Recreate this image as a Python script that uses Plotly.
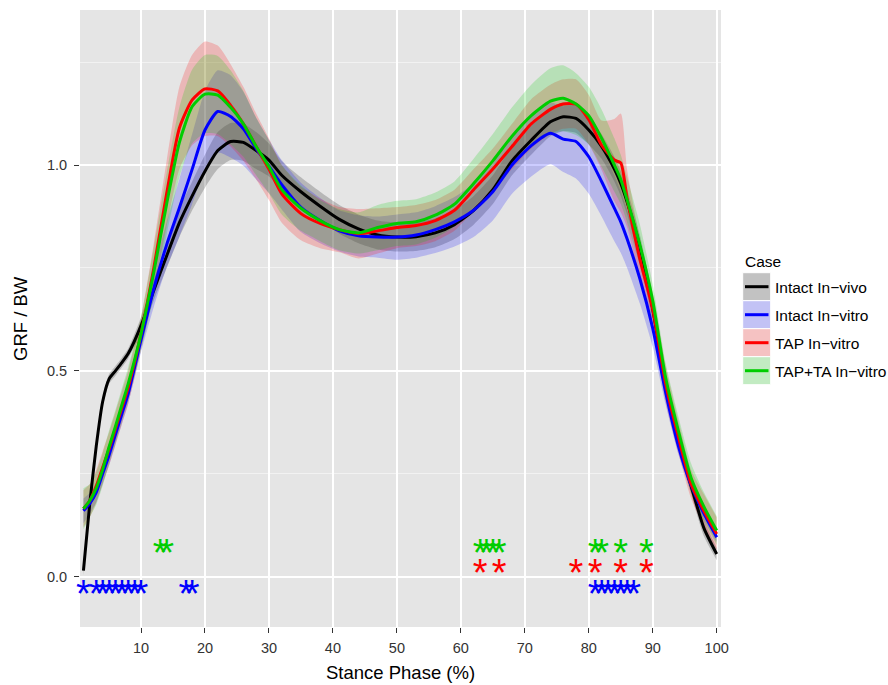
import plotly.graph_objects as go

# ---------------- data ----------------
stance = [1, 2, 3, 4, 5, 6, 7, 8, 10, 12, 14, 16, 18, 20, 22, 24, 26, 28, 30, 32,
          35, 38, 41, 44, 47, 50, 53, 56, 59, 62, 65, 68, 71, 74,
          76, 78, 80, 82, 84, 85, 86, 88, 90, 92, 94, 96, 98, 100]

invivo_mean = [0.015, 0.18, 0.317, 0.425, 0.48, 0.50, 0.52, 0.542,
               0.61, 0.696, 0.779, 0.86, 0.925, 0.985, 1.035, 1.057, 1.055, 1.035, 1.012, 0.975,
               0.935, 0.90, 0.868, 0.845, 0.83, 0.825, 0.826, 0.835, 0.855, 0.89, 0.94, 1.01, 1.06, 1.105,
               1.117, 1.113, 1.085, 1.045, 0.99, 0.955, 0.91, 0.80, 0.65, 0.47, 0.33, 0.22, 0.118, 0.055]
invivo_sd = [0.012, 0.012, 0.012, 0.012, 0.012, 0.012, 0.012, 0.012,
             0.02, 0.025, 0.03, 0.035, 0.035, 0.04, 0.045, 0.045, 0.045, 0.045, 0.04, 0.035,
             0.035, 0.035, 0.035, 0.035, 0.035, 0.035, 0.035, 0.035, 0.035, 0.035, 0.035, 0.035, 0.035, 0.035,
             0.035, 0.035, 0.035, 0.03, 0.03, 0.03, 0.03, 0.03, 0.03, 0.025, 0.02, 0.02, 0.02, 0.015]

invitro_mean = [0.16, 0.178, 0.205, 0.25, 0.295, 0.345, 0.395, 0.445,
                0.575, 0.70, 0.806, 0.896, 0.99, 1.085, 1.13, 1.118, 1.088, 1.04, 0.997, 0.952,
                0.897, 0.865, 0.84, 0.828, 0.825, 0.825, 0.83, 0.843, 0.862, 0.89, 0.935, 1.0, 1.047, 1.077,
                1.063, 1.057, 1.02, 0.96, 0.895, 0.862, 0.82, 0.723, 0.603, 0.449, 0.318, 0.222, 0.153, 0.096]
invitro_sd = [0.03, 0.025, 0.025, 0.025, 0.025, 0.025, 0.025, 0.025,
              0.03, 0.045, 0.055, 0.07, 0.085, 0.095, 0.1, 0.1, 0.09, 0.075, 0.065, 0.06,
              0.06, 0.055, 0.05, 0.05, 0.05, 0.055, 0.055, 0.057, 0.06, 0.065, 0.07, 0.07, 0.075, 0.075,
              0.08, 0.09, 0.09, 0.085, 0.08, 0.075, 0.07, 0.06, 0.045, 0.03, 0.02, 0.015, 0.015, 0.012]

tap_mean = [0.165, 0.185, 0.22, 0.265, 0.31, 0.36, 0.41, 0.46,
            0.59, 0.75, 0.93, 1.09, 1.158, 1.185, 1.18, 1.145, 1.10, 1.045, 0.99, 0.93,
            0.882, 0.858, 0.843, 0.833, 0.84, 0.848, 0.853, 0.865, 0.89, 0.94, 0.99, 1.045, 1.10, 1.135,
            1.148, 1.148, 1.11, 1.048, 1.012, 1.005, 0.918, 0.77, 0.65, 0.47, 0.34, 0.225, 0.16, 0.104]
tap_sd = [0.045, 0.04, 0.04, 0.04, 0.04, 0.04, 0.04, 0.04,
          0.04, 0.06, 0.08, 0.1, 0.11, 0.115, 0.11, 0.1, 0.09, 0.08, 0.075, 0.07,
          0.065, 0.06, 0.055, 0.06, 0.055, 0.05, 0.05, 0.05, 0.05, 0.05, 0.05, 0.055, 0.06, 0.06,
          0.06, 0.06, 0.06, 0.06, 0.1, 0.12, 0.07, 0.05, 0.04, 0.045, 0.04, 0.035, 0.04, 0.04]

tapta_mean = [0.165, 0.185, 0.215, 0.26, 0.315, 0.365, 0.417, 0.469,
              0.59, 0.74, 0.905, 1.055, 1.142, 1.172, 1.17, 1.14, 1.10, 1.045, 0.996, 0.94,
              0.895, 0.865, 0.843, 0.835, 0.848, 0.858, 0.862, 0.878, 0.905, 0.955, 1.01, 1.07, 1.12, 1.155,
              1.162, 1.148, 1.12, 1.065, 1.0, 0.965, 0.915, 0.805, 0.67, 0.485, 0.355, 0.24, 0.17, 0.112]
tapta_sd = [0.05, 0.04, 0.04, 0.04, 0.04, 0.04, 0.04, 0.04,
            0.04, 0.06, 0.075, 0.085, 0.09, 0.095, 0.095, 0.09, 0.08, 0.07, 0.065, 0.06,
            0.055, 0.05, 0.05, 0.05, 0.055, 0.055, 0.055, 0.055, 0.055, 0.06, 0.065, 0.07, 0.075, 0.08,
            0.08, 0.075, 0.07, 0.07, 0.065, 0.06, 0.055, 0.05, 0.04, 0.035, 0.035, 0.035, 0.035, 0.035]

case_names = ["Intact In\u2212vivo", "Intact In\u2212vitro", "TAP In\u2212vitro", "TAP+TA In\u2212vitro"]

# significance markers (stance phase %, row level)
sig_invitro_x = [1, 3, 4, 5, 6, 7, 8, 9, 10, 17, 18, 81, 82, 83, 84, 85, 86, 87]
sig_tap_x = [63, 66, 78, 81, 85, 89]
sig_tapta_x = [13, 14, 63, 64, 65, 66, 81, 82, 85, 89]
sig_levels = [-0.05, 0.0, 0.05]

x_ticks = [10, 20, 30, 40, 50, 60, 70, 80, 90, 100]
y_ticks = [0.0, 0.5, 1.0]
y_tick_text = ["0.0", "0.5", "1.0"]

# ---------------- styling ----------------
line_cols = ["#000000", "#0000ff", "#ff0000", "#00cd00"]
fill_cols = ["rgba(0,0,0,0.2)", "rgba(0,0,255,0.2)", "rgba(255,0,0,0.2)", "rgba(0,205,0,0.2)"]
key_cols = ["rgb(194,194,194)", "rgb(194,194,245)", "rgb(245,194,194)", "rgb(194,235,194)"]
FONT = "Liberation Sans, Arial, Helvetica, sans-serif"

W, H = 888, 685
PL, PR, PT, PB = 80, 721, 10, 627


def px2x(px):
    return (px - PL) / (PR - PL)


def py2y(py):
    return (PB - py) / (PB - PT)


means = [invivo_mean, invitro_mean, tap_mean, tapta_mean]
sds = [invivo_sd, invitro_sd, tap_sd, tapta_sd]

fig = go.Figure()

# ribbons
for m, s, fc in zip(means, sds, fill_cols):
    lo = [a - b for a, b in zip(m, s)]
    hi = [a + b for a, b in zip(m, s)]
    fig.add_trace(go.Scatter(x=stance, y=lo, mode="lines",
                             line=dict(width=0, shape="spline", smoothing=0.6),
                             showlegend=False, hoverinfo="skip"))
    fig.add_trace(go.Scatter(x=stance, y=hi, mode="lines", fill="tonexty", fillcolor=fc,
                             line=dict(width=0, shape="spline", smoothing=0.6),
                             showlegend=False, hoverinfo="skip"))

# mean lines
for m, lc, nm in zip(means, line_cols, case_names):
    fig.add_trace(go.Scatter(x=stance, y=m, mode="lines", name=nm,
                             line=dict(color=lc, width=3, shape="spline", smoothing=0.6),
                             showlegend=False))

# significance asterisks
for xs, lvl, col in [(sig_invitro_x, sig_levels[0], "#0000ff"),
                     (sig_tap_x, sig_levels[1], "#ff0000"),
                     (sig_tapta_x, sig_levels[2], "#00cd00")]:
    fig.add_trace(go.Scatter(x=xs, y=[lvl] * len(xs), mode="text", text=["*"] * len(xs),
                             textposition="middle center",
                             textfont=dict(family=FONT, size=38, color=col),
                             cliponaxis=False, showlegend=False, hoverinfo="skip"))

# ---------------- manual legend ----------------
shapes = []
annotations = []
annotations.append(dict(x=px2x(742.5), y=py2y(261), xref="paper", yref="paper",
                        text="Case", showarrow=False, xanchor="left", yanchor="middle",
                        font=dict(family=FONT, size=15.5, color="#000000")))
key_top = 272.7
key_h = 28
for i, (nm, kc, lc) in enumerate(zip(case_names, key_cols, line_cols)):
    t = key_top + i * key_h
    shapes.append(dict(type="rect", xref="paper", yref="paper",
                       x0=px2x(742.7), x1=px2x(770.7), y0=py2y(t + key_h), y1=py2y(t),
                       fillcolor=kc, line=dict(color="#ffffff", width=1), layer="above"))
    shapes.append(dict(type="line", xref="paper", yref="paper",
                       x0=px2x(745), x1=px2x(768.5), y0=py2y(t + key_h / 2), y1=py2y(t + key_h / 2),
                       line=dict(color=lc, width=3), layer="above"))
    annotations.append(dict(x=px2x(773.3), y=py2y(t + key_h / 2 + 0.8), xref="paper", yref="paper",
                            text=nm, showarrow=False, xanchor="left", yanchor="middle",
                            font=dict(family=FONT, size=15.5, color="#000000")))

# axis titles
annotations.append(dict(x=0.5, y=py2y(672), xref="paper", yref="paper", text="Stance Phase (%)",
                        showarrow=False, xanchor="center", yanchor="middle",
                        font=dict(family=FONT, size=18.5, color="#000000")))
annotations.append(dict(x=px2x(20.5), y=0.5, xref="paper", yref="paper", text="GRF / BW",
                        showarrow=False, xanchor="center", yanchor="middle", textangle=-90,
                        font=dict(family=FONT, size=18.5, color="#000000")))

fig.update_layout(
    width=W, height=H, autosize=False,
    margin=dict(l=PL, r=W - PR, t=PT, b=H - PB, pad=0),
    paper_bgcolor="#ffffff", plot_bgcolor="#e5e5e5",
    showlegend=False,
    shapes=shapes, annotations=annotations,
    font=dict(family=FONT),
)
fig.update_xaxes(range=[0.46, 100.67], tickmode="array", tickvals=x_ticks,
                 showgrid=True, gridcolor="#ffffff", gridwidth=1.6, zeroline=False,
                 ticks="outside", ticklen=5, tickwidth=1.2, tickcolor="#333333",
                 ticklabelstandoff=3,
                 tickfont=dict(family=FONT, size=14.5, color="#333333"), showline=False)
fig.update_yaxes(range=[-0.1222, 1.3765], tickmode="array", tickvals=y_ticks, ticktext=y_tick_text,
                 showgrid=True, gridcolor="#ffffff", gridwidth=1.6, zeroline=False,
                 ticks="outside", ticklen=5, tickwidth=1.2, tickcolor="#333333",
                 ticklabelstandoff=4,
                 tickfont=dict(family=FONT, size=14.5, color="#333333"), showline=False,
                 minor=dict(tickvals=[0.25, 0.75, 1.25], showgrid=True, gridcolor="#f2f2f2",
                            gridwidth=0.8, ticks=""))

fig.write_html("out.html",
               config={"displayModeBar": False},
               post_script="document.body.style.margin='0';document.body.style.overflow='hidden';")
